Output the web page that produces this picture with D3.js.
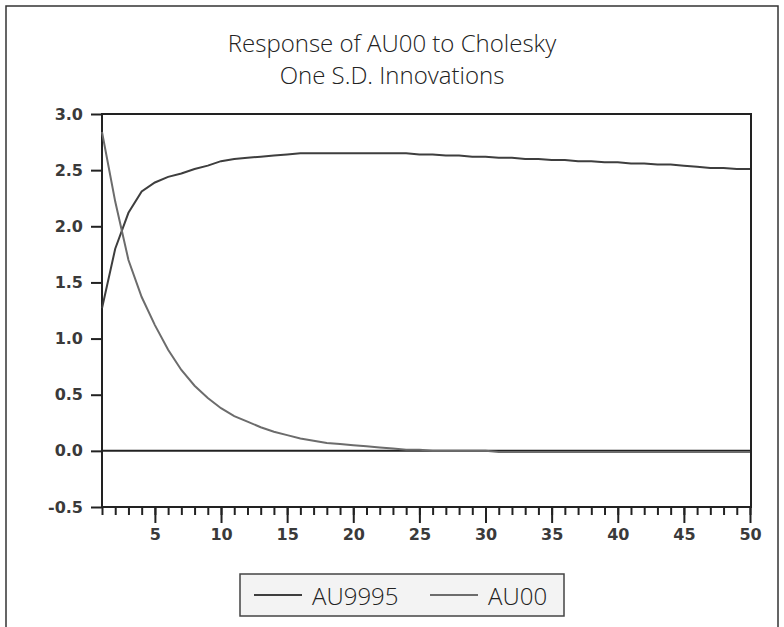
<!DOCTYPE html>
<html lang="en">
<head>
    <meta charset="UTF-8">
    <title>Response of AU00 to Cholesky</title>
    <script src="https://d3js.org/d3.v7.min.js"></script>
    <style>
        body { margin: 0; background: #fff; }
        .tick text { font-family: "DejaVu Sans", sans-serif; font-weight: bold; font-size: 16px; fill: #3a3a3a; }
        .tick line { stroke: #222; stroke-width: 2; }
        .domain { display: none; }
        .title, .legend text { font-family: "Open Sans", sans-serif; font-weight: 300; fill: #222; }
    </style>
</head>
<body>
    <svg width="784" height="627"></svg>
    <script>
        // periods 1..50
        var periods = d3.range(1, 51);

        // response of AU00 to a shock in AU9995
        var au9995 = [1.27, 1.80, 2.12, 2.31, 2.39, 2.44, 2.47, 2.51, 2.54, 2.58,
                      2.60, 2.61, 2.62, 2.63, 2.64, 2.65, 2.65, 2.65, 2.65, 2.65,
                      2.65, 2.65, 2.65, 2.65, 2.64, 2.64, 2.63, 2.63, 2.62, 2.62,
                      2.61, 2.61, 2.60, 2.60, 2.59, 2.59, 2.58, 2.58, 2.57, 2.57,
                      2.56, 2.56, 2.55, 2.55, 2.54, 2.53, 2.52, 2.52, 2.51, 2.51];

        // response of AU00 to its own shock
        var au00 = [2.84, 2.22, 1.70, 1.37, 1.12, 0.90, 0.72, 0.58, 0.47, 0.38,
                    0.31, 0.26, 0.21, 0.17, 0.14, 0.11, 0.09, 0.07, 0.06, 0.05,
                    0.04, 0.03, 0.02, 0.01, 0.01, 0.00, 0.00, 0.00, 0.00, 0.00,
                    -0.01, -0.01, -0.01, -0.01, -0.01, -0.01, -0.01, -0.01, -0.01, -0.01,
                    -0.01, -0.01, -0.01, -0.01, -0.01, -0.01, -0.01, -0.01, -0.01, -0.01];

        var yTicks = [-0.5, 0.0, 0.5, 1.0, 1.5, 2.0, 2.5, 3.0];
        var xMajor = [5, 10, 15, 20, 25, 30, 35, 40, 45, 50];
        var titleLines = ["Response of AU00 to Cholesky", "One S.D. Innovations"];
        var seriesNames = ["AU9995", "AU00"];
        var seriesColors = ["#3e3e3e", "#6c6c6c"];

        var svg = d3.select("svg");

        var x = d3.scaleLinear().domain([1, 50]).range([102, 750]);
        var y = d3.scaleLinear().domain([-0.5, 3.0]).range([507, 114]);

        // outer frame
        svg.append("rect")
            .attr("x", 6).attr("y", 6)
            .attr("width", 772).attr("height", 660)
            .attr("fill", "none")
            .attr("stroke", "#333")
            .attr("stroke-width", 1.5);

        // title
        svg.selectAll(".title")
            .data(titleLines)
            .enter().append("text")
            .attr("class", "title")
            .attr("x", 392)
            .attr("y", function (d, i) { return 52 + i * 32; })
            .attr("text-anchor", "middle")
            .style("font-size", "24px")
            .text(function (d) { return d; });

        // y axis
        svg.append("g")
            .attr("transform", "translate(" + x(1) + ",0)")
            .call(d3.axisLeft(y).tickValues(yTicks).tickSize(11).tickPadding(8)
                .tickFormat(function (d) { return d.toFixed(1); }));

        // x axis: minor ticks at every period
        svg.append("g")
            .attr("transform", "translate(0," + y(-0.5) + ")")
            .call(d3.axisBottom(x).tickValues(periods).tickSize(8).tickFormat(""));

        // x axis: major ticks every 5
        svg.append("g")
            .attr("transform", "translate(0," + y(-0.5) + ")")
            .call(d3.axisBottom(x).tickValues(xMajor).tickSize(16).tickPadding(6)
                .tickFormat(d3.format("d")));

        // plot frame
        svg.append("rect")
            .attr("x", x(1)).attr("y", y(3.0))
            .attr("width", x(50) - x(1) + 1)
            .attr("height", y(-0.5) - y(3.0))
            .attr("fill", "none")
            .attr("stroke", "#222")
            .attr("stroke-width", 2);

        // zero line
        svg.append("line")
            .attr("x1", x(1)).attr("x2", x(50))
            .attr("y1", y(0)).attr("y2", y(0))
            .attr("stroke", "#222")
            .attr("stroke-width", 2);

        var line = d3.line()
            .x(function (d, i) { return x(periods[i]); })
            .y(function (d) { return y(d); });

        [au9995, au00].forEach(function (s, i) {
            svg.append("path")
                .datum(s)
                .attr("d", line)
                .attr("fill", "none")
                .attr("stroke", seriesColors[i])
                .attr("stroke-width", 2);
        });

        // legend
        var legend = svg.append("g").attr("class", "legend");
        legend.append("rect")
            .attr("x", 240).attr("y", 574)
            .attr("width", 324).attr("height", 42)
            .attr("fill", "#f3f3f3")
            .attr("stroke", "#444")
            .attr("stroke-width", 1.5);

        var lx = [254, 430];
        seriesNames.forEach(function (name, i) {
            legend.append("line")
                .attr("x1", lx[i]).attr("x2", lx[i] + 48)
                .attr("y1", 595).attr("y2", 595)
                .attr("stroke", seriesColors[i])
                .attr("stroke-width", 2);
            legend.append("text")
                .attr("x", lx[i] + 58)
                .attr("y", 605)
                .style("font-size", "24px")
                .text(name);
        });
    </script>
</body>
</html>
